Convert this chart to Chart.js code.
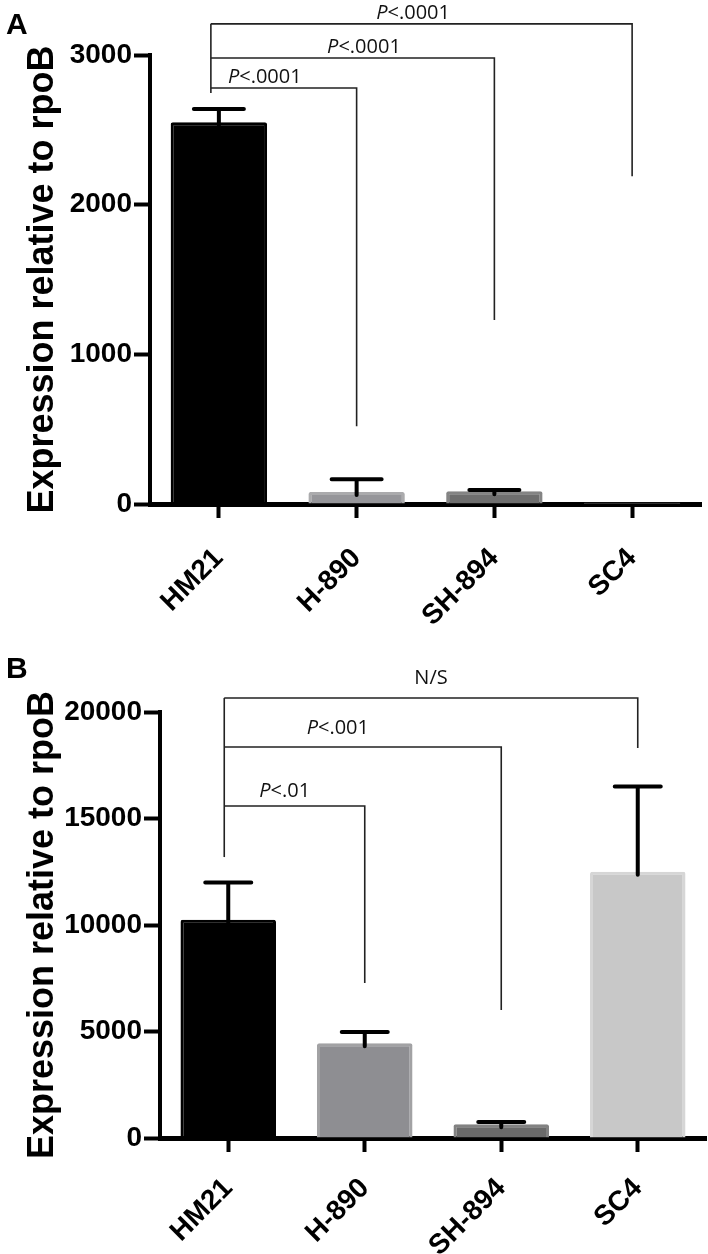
<!DOCTYPE html>
<html>
<head>
<meta charset="utf-8">
<title>Expression relative to rpoB</title>
<script src="https://cdn.jsdelivr.net/npm/chart.js@4.4.0/dist/chart.umd.min.js"></script>
<style>
  html, body { margin: 0; padding: 0; background: #fff; }
  canvas { display: block; }
</style>
</head>
<body>
<canvas id="chartA" width="708" height="640"></canvas>
<canvas id="chartB" width="708" height="614"></canvas>
<script>
// ======================= DATA =======================
const strains = ['HM21', 'H-890', 'SH-894', 'SC4'];

// panel A
const meanA = [2550, 80, 85, 8];
const sdA = [90, 85, 8, 0];
const ticksA = [0, 1000, 2000, 3000];
const bracketLabelsA = ['P<.0001', 'P<.0001', 'P<.0001'];
const bracketToA = [1, 2, 3];
const bracketLevelA = [2780, 2980, 3208];
const bracketDropA = [520, 1230, 2190];
const bracketStartDropA = 2746;

// panel B
const meanB = [10250, 4450, 650, 12500];
const sdB = [1750, 530, 100, 4000];
const ticksB = [0, 5000, 10000, 15000, 20000];
const bracketLabelsB = ['P<.01', 'P<.001', 'N/S'];
const bracketToB = [1, 2, 3];
const bracketLevelB = [15590, 18360, 20660];
const bracketDropB = [7280, 6010, 18310];
const bracketStartDropB = 13190;

// ======================= STYLES =======================
const fillA = ['#000000', '#96969a', '#6e6e6e', '#c8c8c8'];
const edgeA = ['#000000', '#ababad', '#848484', '#d6d6d6'];
const fillB = ['#000000', '#8e8e92', '#6a6a6a', '#c8c8c8'];
const edgeB = ['#000000', '#a2a2a4', '#828282', '#d6d6d6'];

const tickFont = { family: '"Liberation Sans", Arial, sans-serif', size: 28, weight: 'bold' };
const catFont = { family: '"Liberation Sans", Arial, sans-serif', size: 28, weight: 'bold' };
const titleFont = { family: '"Liberation Sans", Arial, sans-serif', size: 36, weight: 'bold' };
const noteFamily = '"Open Sans", sans-serif';

// ======================= PLUGINS =======================
function errorBarPlugin(sd, capWidth) {
  return {
    id: 'errorBars',
    afterDatasetsDraw(chart) {
      const { ctx, scales: { x, y } } = chart;
      const means = chart.data.datasets[0].data;
      ctx.save();
      ctx.strokeStyle = '#000';
      ctx.lineWidth = 4;
      ctx.lineCap = 'round';
      means.forEach((m, i) => {
        if (!sd[i]) return;
        const cx = x.getPixelForValue(i);
        const yTop = y.getPixelForValue(m + sd[i]);
        const yMean = y.getPixelForValue(m);
        ctx.beginPath();
        ctx.moveTo(cx, yMean + 3);
        ctx.lineTo(cx, yTop);
        ctx.moveTo(cx - capWidth / 2, yTop);
        ctx.lineTo(cx + capWidth / 2, yTop);
        ctx.stroke();
      });
      ctx.restore();
    }
  };
}

function drawNote(ctx, text, cx, cy) {
  const italic = text.charAt(0) === 'P';
  const head = italic ? 'P' : '';
  const rest = italic ? text.slice(1) : text;
  ctx.font = 'italic 20px ' + noteFamily;
  const w1 = head ? ctx.measureText(head).width : 0;
  ctx.font = '20px ' + noteFamily;
  const w2 = ctx.measureText(rest).width;
  let x = cx - (w1 + w2) / 2;
  ctx.textAlign = 'left';
  ctx.textBaseline = 'middle';
  ctx.fillStyle = '#111';
  if (head) {
    ctx.font = 'italic 20px ' + noteFamily;
    ctx.fillText(head, x, cy);
    x += w1;
  }
  ctx.font = '20px ' + noteFamily;
  ctx.fillText(rest, x, cy);
}

function bracketPlugin(cfg) {
  return {
    id: 'brackets',
    afterDraw(chart) {
      const { ctx, scales: { x, y } } = chart;
      const x0 = x.getPixelForValue(0) + cfg.leftShift;
      ctx.save();
      ctx.strokeStyle = '#222';
      ctx.lineWidth = 1.6;
      // shared left leg
      const topLevel = Math.max(...cfg.levels);
      ctx.beginPath();
      ctx.moveTo(x0, y.getPixelForValue(topLevel));
      ctx.lineTo(x0, y.getPixelForValue(cfg.startDrop));
      ctx.stroke();
      cfg.to.forEach((idx, k) => {
        const x1 = x.getPixelForValue(idx);
        const yl = y.getPixelForValue(cfg.levels[k]);
        ctx.beginPath();
        ctx.moveTo(x0, yl);
        ctx.lineTo(x1, yl);
        ctx.lineTo(x1, y.getPixelForValue(cfg.drops[k]));
        ctx.stroke();
        drawNote(ctx, cfg.labels[k], x0 + (x1 - x0) * cfg.textFrac[k], yl - cfg.textGap[k]);
      });
      // panel letter
      ctx.fillStyle = '#000';
      ctx.font = 'bold 30px "Liberation Sans", Arial, sans-serif';
      ctx.textAlign = 'left';
      ctx.textBaseline = 'middle';
      ctx.fillText(cfg.letter, cfg.letterX, cfg.letterY);
      ctx.restore();
    }
  };
}

// ======================= CHART BUILDER =======================
function makeChart(id, p) {
  const ctx = document.getElementById(id).getContext('2d');
  return new Chart(ctx, {
    type: 'bar',
    data: {
      labels: strains,
      datasets: [{
        data: p.mean,
        backgroundColor: p.fill,
        borderColor: p.edge,
        borderWidth: 3,
        borderSkipped: 'bottom',
        borderRadius: 2,
        categoryPercentage: 0.7,
        barPercentage: 1.0
      }]
    },
    options: {
      responsive: false,
      animation: false,
      layout: { padding: { top: p.padTop, right: p.padRight, left: 0, bottom: 0 } },
      plugins: { legend: { display: false }, tooltip: { enabled: false } },
      scales: {
        x: {
          grid: { drawOnChartArea: false, offset: false, tickLength: 14, tickWidth: 4, color: '#000' },
          border: { color: '#000', width: 5 },
          ticks: { color: '#000', font: catFont, minRotation: 45, maxRotation: 45, autoSkip: false, padding: p.labelPad },
          afterFit: s => { s.height = p.xHeight; }
        },
        y: {
          min: 0,
          max: p.ticks[p.ticks.length - 1],
          afterBuildTicks: s => { s.ticks = p.ticks.map(v => ({ value: v })); },
          grid: { drawOnChartArea: false, tickLength: 16, tickWidth: 4, color: '#000' },
          border: { color: '#000', width: 4 },
          ticks: { color: '#000', font: tickFont, padding: 2, callback: v => String(v) },
          title: { display: true, text: 'Expression relative to rpoB', color: '#000', font: titleFont, padding: { top: 21, bottom: 0 } },
          afterFit: s => { s.width = p.yWidth; }
        }
      }
    },
    plugins: [errorBarPlugin(p.sd, p.cap), bracketPlugin(p.brackets)]
  });
}

// ======================= INIT =======================
makeChart('chartA', {
  mean: meanA, sd: sdA, ticks: ticksA, fill: fillA, edge: edgeA,
  padTop: 55, padRight: 7, xHeight: 136, yWidth: 150, cap: 50, labelPad: 24,
  brackets: {
    to: bracketToA, levels: bracketLevelA, drops: bracketDropA, startDrop: bracketStartDropA,
    labels: bracketLabelsA, textFrac: [0.37, 0.54, 0.48], textGap: [11, 11, 11],
    leftShift: -8, letter: 'A', letterX: 6, letterY: 26
  }
});

makeChart('chartB', {
  mean: meanB, sd: sdB, ticks: ticksB, fill: fillB, edge: edgeB,
  padTop: 72, padRight: 2, xHeight: 116, yWidth: 160, cap: 46, labelPad: 20,
  brackets: {
    to: bracketToB, levels: bracketLevelB, drops: bracketDropB, startDrop: bracketStartDropB,
    labels: bracketLabelsB, textFrac: [0.43, 0.41, 0.5], textGap: [15, 19, 20],
    leftShift: -4, letter: 'B', letterX: 6, letterY: 30
  }
});
</script>
</body>
</html>
